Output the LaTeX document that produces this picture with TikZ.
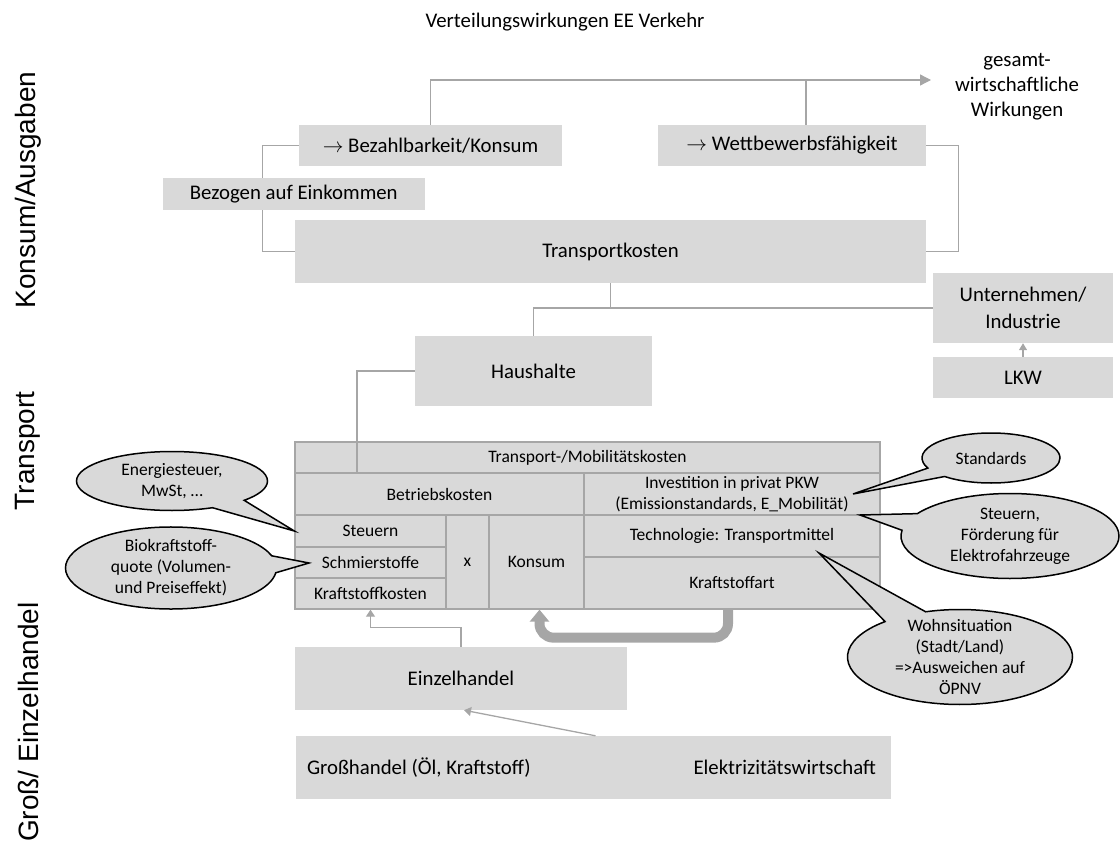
\documentclass[tikz,border=0pt]{standalone}
\usepackage{fontspec}
\setmainfont{Carlito}
\newfontfamily\labfont{Liberation Sans}
\usetikzlibrary{arrows.meta,shapes.callouts,positioning}
\definecolor{boxgray}{HTML}{D9D9D9}
\definecolor{linegray}{HTML}{A6A6A6}
\newcommand\txtL{\fontsize{20.8}{27}\selectfont}
\newcommand\txtS{\fontsize{17.5}{21}\selectfont}
\begin{document}
\begin{tikzpicture}
  [x=1pt,y=-1pt,
  every node/.style={font=\txtL,inner sep=0pt},
  blk/.style={fill=boxgray,align=center},
  cell/.style={fill=boxgray,draw=linegray,line width=1.3pt,font=\txtS,align=center},
  bub/.style={ellipse callout,fill=boxgray,draw=black,line width=1.5pt,font=\txtS,
    align=center,callout pointer arc=24},
  link/.style={draw=linegray,line width=1.3pt},
  fat/.style={draw=linegray,line width=10pt,rounded corners=14pt},
  lab/.style={rotate=90,font=\labfont\fontsize{28}{30}\selectfont}]
  \useasboundingbox (0,0) rectangle (1120,843);
  \def\tip{Triangle[length=11pt,width=11pt]}

  % Ebenen links
  \node[lab] (konsum) at (28,190) {Konsum/Ausgaben};
  \node[lab] (transp) at (28,451) {Transport};
  \node[lab] (handel) at (28,722) {Groß/ Einzelhandel};

  \node (title) at (565,22) {Verteilungswirkungen EE Verkehr};

  % Konsum/Ausgaben
  \node[blk,minimum width=263,minimum height=41] (bez) at (430.5,145.5) {$\rightarrow$ Bezahlbarkeit/Konsum};
  \node[blk,minimum width=268,minimum height=41] (wett) at (792,145.5) {$\rightarrow$ Wettbewerbsfähigkeit};
  \node[blk,minimum width=631,minimum height=63] (tkost) at (610.5,251.5) {Transportkosten};
  \node[align=center,font=\fontsize{20.8}{25}\selectfont] (gw) at (1017,87) {gesamt-\\wirtschaftliche\\Wirkungen};
  \coordinate (gwin) at (931,80);
  \draw[link] (bez.west) -- ++(-36,0) |- (tkost.west);
  \draw[link] (wett.east) -- ++(32,0) |- (tkost.east);
  \draw[link,-{\tip},color=linegray] (bez.north) |- (gwin);
  \draw[link] ([xshift=14]wett.north) -- ([xshift=14]wett.north |- gwin);
  \node[blk,minimum width=262.5,minimum height=32] (eink) at (293.75,194) {Bezogen auf Einkommen};

  % Transport
  \node[blk,minimum width=180,minimum height=70] (unt) at (1023,308) {Unternehmen/\\Industrie};
  \node[blk,minimum width=180,minimum height=41] (lkw) at (1023,377.5) {LKW};
  \node[blk,minimum width=237,minimum height=70] (haus) at (533.5,371) {Haushalte};
  \draw[link] (unt.west) -| (tkost.south);
  \draw[link] (haus.north) |- (unt.west);
  \draw[link,-{Triangle[length=7pt,width=8pt]},color=linegray] (lkw.north) -- (unt.south);

  % Kostentabelle
  \node[cell,minimum width=585,minimum height=31] (tmk) at (587.5,457.5) {Transport-/Mobilitätskosten};
  \node[cell,minimum width=289,minimum height=42] (betr) at (439.5,494) {Betriebskosten};
  \node[cell,minimum width=296,minimum height=42] (inv) at (732,494) {Investition in privat PKW\\(Emissionstandards, E\_Mobilität)};
  \node[cell,minimum width=151,minimum height=32] (steu) at (370.5,531) {Steuern};
  \node[cell,minimum width=151,minimum height=31] (schm) at (370.5,562.5) {Schmierstoffe};
  \node[cell,minimum width=151,minimum height=31] (kfk) at (370.5,593.5) {Kraftstoffkosten};
  \node[cell,minimum width=43,minimum height=94] (mal) at (467.5,562) {x};
  \node[cell,minimum width=95,minimum height=94] (kons) at (536.5,562) {Konsum};
  \node[cell,minimum width=296,minimum height=42] (tech) at (732,536) {Technologie: Transportmittel};
  \node[cell,minimum width=296,minimum height=52] (kart) at (732,583) {Kraftstoffart};
  \draw[link] (haus.west) -| ([xshift=62.5]tmk.south west);

  % Sprechblasen
  \coordinate (pbio) at (309,563);
  \coordinate (pstd) at (853,494);
  \coordinate (pfoe) at (860,515);
  \coordinate (pwohn) at (819,553);
  \node[bub,minimum width=191,minimum height=59,callout absolute pointer={(steu.west)}] (energ) at (172,481) {Energiesteuer,\\MwSt, \dots};
  \node[bub,minimum width=211,minimum height=82,callout absolute pointer={(pbio)}] (bio) at (171,568) {Biokraftstoff-\\quote (Volumen-\\und Preiseffekt)};
  \node[bub,minimum width=138,minimum height=50,callout absolute pointer={(pstd)}] (std) at (991,458) {Standards};
  \node[bub,minimum width=218,minimum height=85,callout absolute pointer={(pfoe)}] (foe) at (1010,536) {Steuern,\\Förderung für\\Elektrofahrzeuge};
  \node[bub,minimum width=225,minimum height=95,inner ysep=-6.4pt,callout absolute pointer={(pwohn)}] (wohn) at (960,657) {Wohnsituation\\(Stadt/Land)\\=>Ausweichen auf\\ÖPNV};

  % Groß-/Einzelhandel
  \node[blk,minimum width=332,minimum height=63] (einz) at (461,678.5) {Einzelhandel};
  \node[blk,minimum width=595,minimum height=63] (gross) at (593.5,767.5) {};
  \node[right] (oel) at ([xshift=11]gross.west) {Großhandel (Öl, Kraftstoff)};
  \node[left] (strom) at ([xshift=-15]gross.east) {Elektrizitätswirtschaft};
  \draw[link,-{Triangle[length=7pt,width=9pt]},color=linegray] (einz.north) -- ++(0,-19) -| (kfk.south);
  \draw[link,-{Triangle[length=7pt,width=9pt]},color=linegray] ([xshift=2]gross.north) -- ([xshift=3]einz.south);
  \draw[fat,-{Triangle[length=12pt,width=19pt]}] ([xshift=-4]kart.south) -- ++(0,28) -| ([xshift=3]kons.south);
\end{tikzpicture}
\end{document}
